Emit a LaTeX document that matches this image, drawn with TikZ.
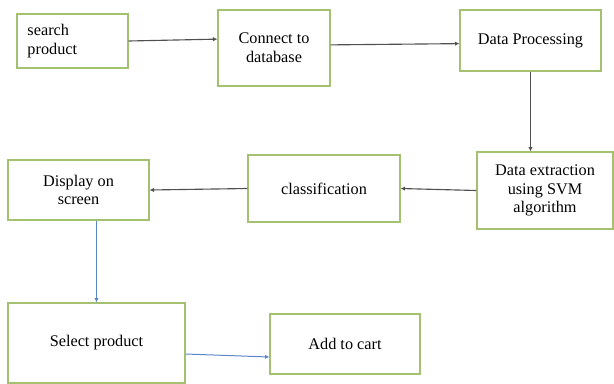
\documentclass[tikz,border=0pt]{standalone}
\usepackage{fontspec}
\setmainfont{Liberation Serif}
\usetikzlibrary{arrows.meta,positioning}
\usepackage{xcolor}
\definecolor{boxgreen}{HTML}{A4C172}
\definecolor{flowgray}{HTML}{505050}
\definecolor{flowblue}{HTML}{5B87C8}
\begin{document}
\begin{tikzpicture}[x=0.8pt,y=-0.8pt,
  stepbox/.style={draw=boxgreen,line width=1pt,align=center,font=\fontsize{13}{15}\selectfont,inner sep=2pt},
  flow/.style={flowgray,line width=0.9pt,-{Latex[length=3.5pt,width=3.5pt]}},
  flowb/.style={flowblue,line width=0.8pt,-{Latex[length=3.5pt,width=3.5pt]}}]
  \useasboundingbox (0,0) rectangle (614,383);
  \node[stepbox,minimum width=88.8pt,minimum height=43.2pt,text width=72pt,align=left] (search) at (72.5,41) {search\\product};
  \node[stepbox,minimum width=89.6pt,minimum height=60.8pt] (connect) at (274,48) {Connect to\\database};
  \node[stepbox,minimum width=112.8pt,minimum height=48.8pt] (proc) at (530.5,40.5) {Data Processing};
  \node[stepbox,minimum width=108.8pt,minimum height=61.6pt] (extract) at (545,190.5) {Data extraction\\using SVM\\algorithm};
  \node[stepbox,minimum width=121.6pt,minimum height=53.6pt] (classify) at (324,188.5) {classification};
  \node[stepbox,minimum width=112.8pt,minimum height=48pt] (display) at (78.5,190) {Display on\\screen};
  \node[stepbox,minimum width=141.6pt,minimum height=64pt] (select) at (96.5,343) {Select product};
  \node[stepbox,minimum width=120pt,minimum height=48pt] (cart) at (345,344) {Add to cart};
  \draw[flow] (search.east) -- ([yshift=1.5pt]search.east -| connect.west);
  \draw[flow] ([yshift=2.5pt]connect.east) -- ([yshift=-2.5pt]proc.west);
  \draw[flow] (proc.south) -- (proc.south |- extract.north);
  \draw[flow] (extract.west) -- (classify.east);
  \draw[flow] (classify.west) -- (display.east);
  \draw[flowb] (display.south -| select.north) -- (select.north);
  \draw[flowb] ([yshift=-8.8pt]select.east) -- ([yshift=-10.4pt]cart.west);
\end{tikzpicture}
\end{document}
